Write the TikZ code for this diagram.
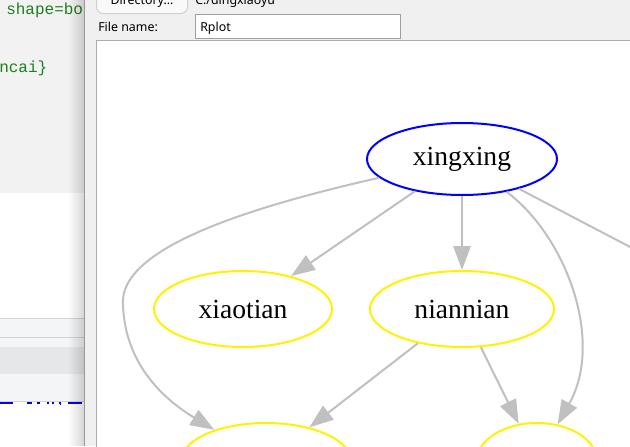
\documentclass[tikz,border=0pt]{standalone}
\usepackage{fontspec}
\setmainfont{Liberation Serif}
\newfontfamily\uifont{Noto Sans}
\newfontfamily\codefont{Liberation Mono}
\usetikzlibrary{shapes.geometric,arrows.meta,fadings}
\definecolor{edgegray}{HTML}{C0C0C0}
\definecolor{panelgray}{HTML}{F2F2F2}
\definecolor{bandlight}{HTML}{F3F5F6}
\definecolor{banddark}{HTML}{E6E7E8}
\definecolor{sepgray}{HTML}{D2D3D4}
\definecolor{dlggray}{HTML}{F0F0F0}
\definecolor{framegray}{HTML}{ADADAD}
\definecolor{btnborder}{HTML}{D0D0D0}
\definecolor{codegreen}{HTML}{1E7E1E}
\definecolor{codeblue}{HTML}{0000FF}
\begin{document}
\begin{tikzpicture}[x=0.75pt,y=-0.75pt,
  gnode/.style={ellipse, draw, line width=1.5pt, inner sep=0pt,
    font=\fontsize{20.7}{24}\selectfont},
  gedge/.style={draw=edgegray, line width=1.5pt,
    -{Triangle[length=18pt,width=13pt]}},
  uitext/.style={anchor=base west, inner sep=0pt, font=\uifont\fontsize{9.3}{11}\selectfont},
  codetext/.style={anchor=base west, inner sep=0pt, text=codegreen,
    font=\codefont\fontsize{12}{14}\selectfont},
]
\useasboundingbox (0,0) rectangle (630,446);
\clip (0,0) rectangle (630,446);

% ---- left editor panel
\fill[panelgray] (0,0) rectangle (84,193);
\fill[white] (0,193) rectangle (84,318);
\fill[bandlight] (0,318) rectangle (84,402);
\fill[banddark] (0,347) rectangle (84,374);
\draw[sepgray, line width=0.75pt] (0,318.5) -- (84,318.5);
\draw[sepgray, line width=0.75pt] (0,337.5) -- (84,337.5);
\draw[sepgray, line width=0.75pt] (0,401.5) -- (84,401.5);
\fill[white] (0,402) rectangle (84,446);
\foreach \a/\b in {0/13, 27/32, 37/40, 47/48.5, 52/53.5, 59/61, 68/82}
  \fill[codeblue] (\a,402) rectangle (\b,403.5);
\fill[codeblue] (59.5,403.5) rectangle (60.5,405);
\node[codetext] (code1) at (6,14) {shape=bo};
\node[codetext] (code2) at (-1,72) {ncai\}};
\fill[black, opacity=0.16, path fading=west] (68,0) rectangle (84,446);

% ---- dialog
\fill[dlggray] (84,0) rectangle (630,446);
\draw[gray!80, line width=0.75pt] (84.5,0) -- (84.5,446);
\draw[fill=white!60!dlggray, draw=btnborder, line width=0.75pt, rounded corners=5pt]
  (96.5,-10) rectangle (187.5,13.5);
\node[uitext, anchor=base] (dirbtn) at (142,4) {Directory...};
\node[uitext] (dirpath) at (195,4) {C:/dingxiaoyu};
\node[uitext] (fnlabel) at (98,31) {File name:};
\draw[fill=white, draw=gray!75, line width=0.75pt] (195.5,14.5) rectangle (400.5,38.5);
\node[uitext] (fnvalue) at (200,31) {Rplot};
\fill[white] (96,40) rectangle (632,448);
\draw[framegray, line width=0.75pt] (96.5,448) -- (96.5,40.5) -- (632,40.5);

% ---- graph
\node[gnode, draw=blue, minimum width=142.5pt, minimum height=54pt] (xingxing) at (462,159) {xingxing};
\node[gnode, draw=yellow, minimum width=133.5pt, minimum height=57pt] (xiaotian) at (243,309) {xiaotian};
\node[gnode, draw=yellow, minimum width=138pt, minimum height=57pt] (niannian) at (462,309) {niannian};
\node[gnode, draw=yellow, minimum width=127.5pt, minimum height=57pt] (botL) at (266,461) {};
\node[gnode, draw=yellow, minimum width=90pt, minimum height=57pt] (botR) at (537,461) {};
\coordinate (offR) at (762,316);

\draw[gedge] (xingxing) -- (xiaotian);
\draw[gedge] (xingxing) -- (niannian);
\draw[gedge] (xingxing) .. controls (250,207) and (118,248) .. (123,305)
  .. controls (125,365) and (165,400) .. (botL);
\draw[gedge] (xingxing) .. controls (565,235) and (605,340) .. (botR);
\draw[draw=edgegray, line width=1.5pt] (xingxing) -- (offR);
\draw[gedge] (niannian) -- (botL);
\draw[gedge] (niannian) -- (botR);
\end{tikzpicture}
\end{document}
